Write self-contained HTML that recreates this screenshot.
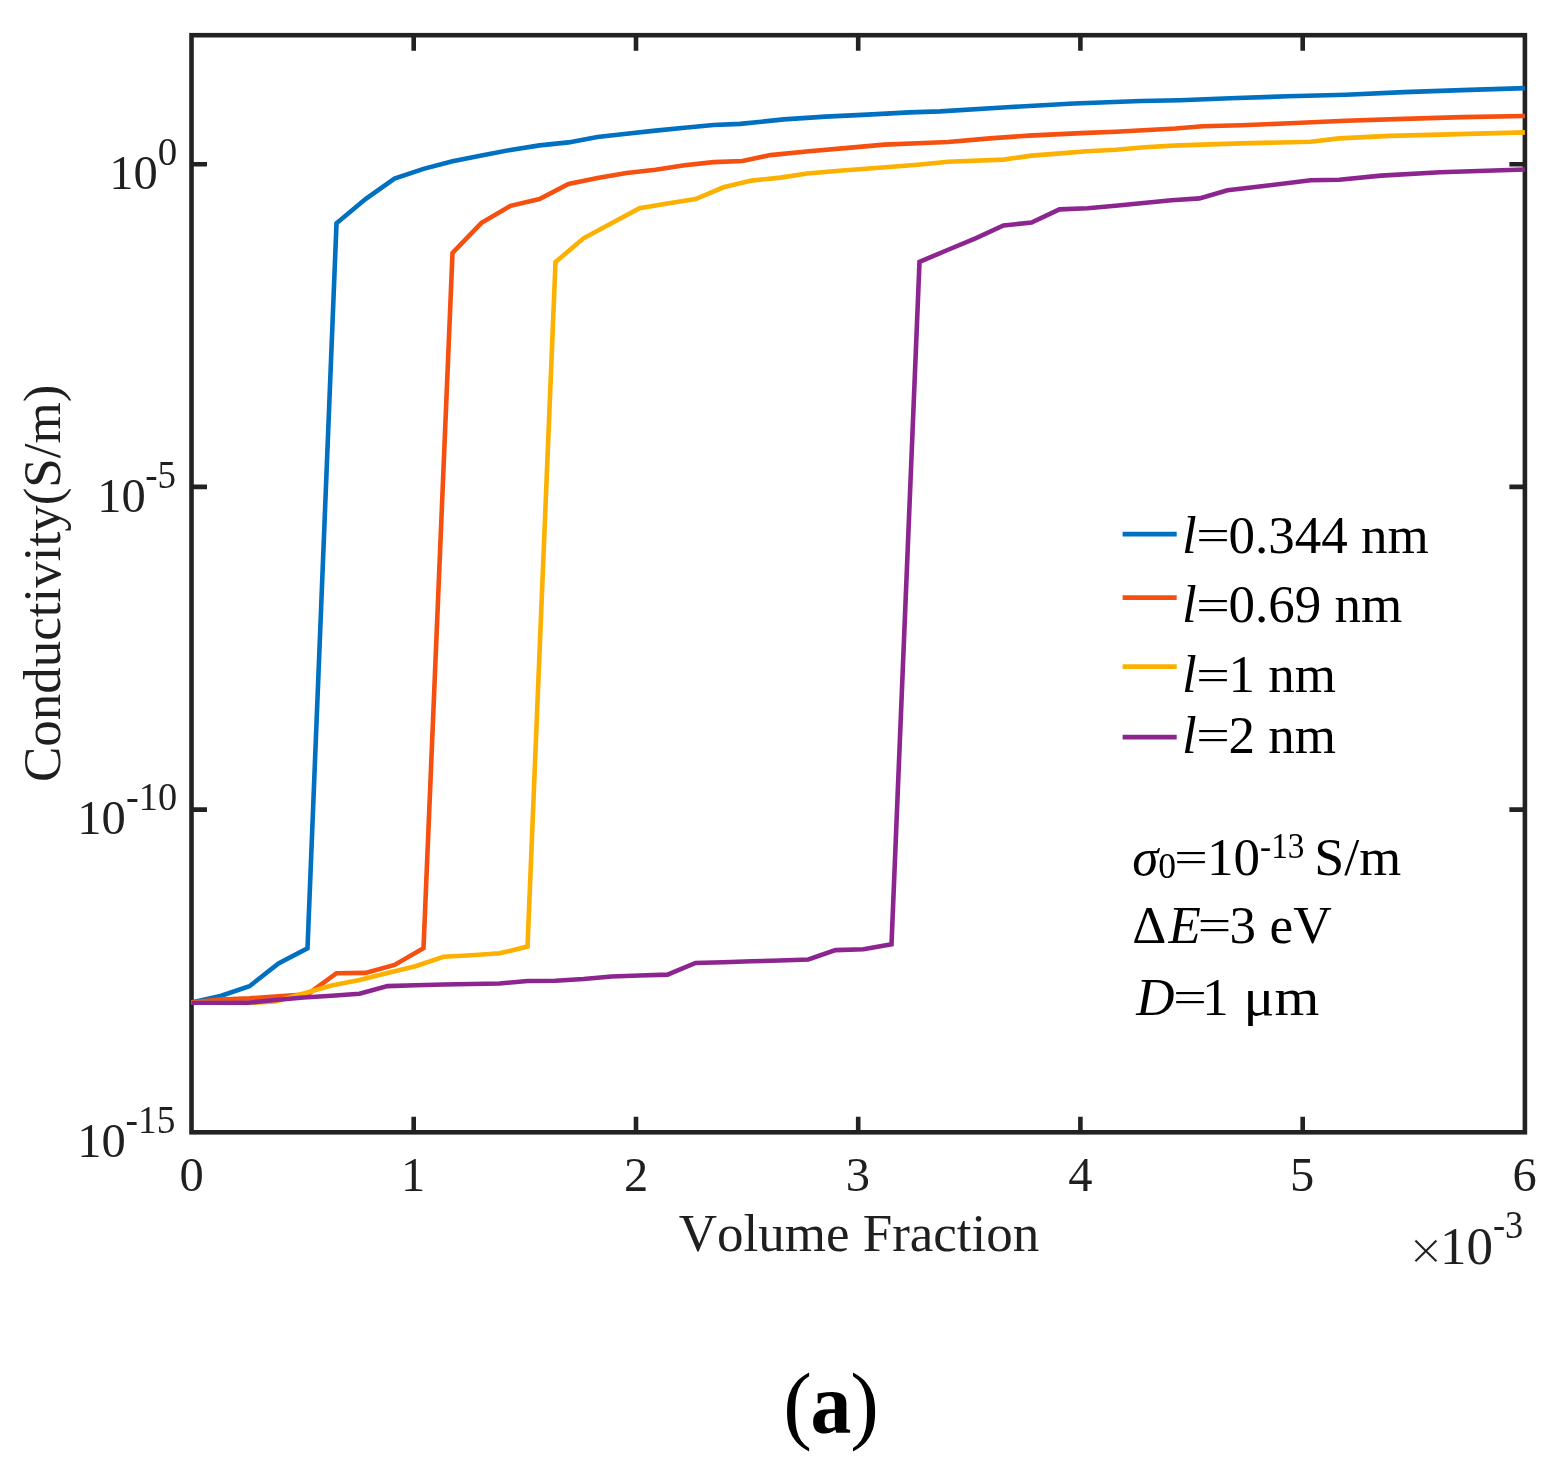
<!DOCTYPE html>
<html><head><meta charset="utf-8"><title>Conductivity vs Volume Fraction</title>
<style>html,body{margin:0;padding:0;background:#fff;}svg{display:block;}</style>
</head><body>
<svg width="1552" height="1470" viewBox="0 0 1552 1470">
<rect width="1552" height="1470" fill="#fff"/>
<g stroke="#222222" stroke-width="4.6" fill="none" stroke-linecap="square">
<rect x="191.5" y="35.2" width="1333.4" height="1097.1" stroke-linecap="butt"/>
<path d="M413.7 1132.3V1116.8 M413.7 35.2V50.7 M636.0 1132.3V1116.8 M636.0 35.2V50.7 M858.2 1132.3V1116.8 M858.2 35.2V50.7 M1080.4 1132.3V1116.8 M1080.4 35.2V50.7 M1302.7 1132.3V1116.8 M1302.7 35.2V50.7 M191.5 164.3H207.0 M1524.9 164.3H1509.4 M191.5 486.9H207.0 M1524.9 486.9H1509.4 M191.5 809.6H207.0 M1524.9 809.6H1509.4" stroke-linecap="butt"/>
</g>
<g fill="none" stroke-width="4.6" stroke-linejoin="miter" stroke-miterlimit="10">
<polyline points="191.5,1002.5 220.5,996.0 249.5,986.2 278.5,963.5 307.5,948.3 336.5,223.3 365.5,199.0 394.5,178.6 423.5,168.9 452.5,161.2 481.5,155.6 510.5,149.9 539.5,145.4 568.5,142.4 597.5,137.0 626.5,133.7 655.5,130.6 684.5,127.8 713.5,125.0 740.2,123.9 783.8,119.4 825.6,116.6 867.5,114.6 909.4,112.4 940.0,111.4 1007.0,107.2 1074.0,103.5 1141.0,101.0 1180.0,100.2 1230.0,98.2 1288.0,96.3 1346.0,94.7 1404.0,92.1 1462.0,90.1 1524.9,88.1" stroke="#0070C0"/>
<polyline points="191.5,1002.3 220.5,999.5 249.5,998.4 278.5,996.3 307.5,994.4 336.5,973.2 365.5,972.9 394.5,964.9 423.5,948.2 452.5,253.0 481.5,222.8 510.5,205.8 539.5,199.0 568.5,183.9 597.5,178.0 626.5,173.0 655.5,169.7 684.5,165.2 713.5,162.1 742.5,161.0 770.4,155.1 808.9,151.3 850.8,147.6 884.3,144.6 917.8,143.2 948.0,142.0 990.0,138.4 1028.7,135.6 1086.7,132.9 1115.7,131.8 1175.6,128.5 1202.6,126.2 1241.3,125.2 1290.0,123.3 1346.0,120.8 1404.0,118.9 1462.0,117.1 1524.9,116.0" stroke="#F5500F"/>
<polyline points="191.5,1002.5 219.5,1002.8 247.5,1003.0 275.5,1001.5 303.5,993.5 331.5,985.5 359.5,979.9 387.5,973.0 415.5,966.2 443.5,956.7 471.5,955.2 499.5,953.3 527.5,946.6 555.5,262.1 583.5,238.3 611.5,223.3 639.5,208.2 667.5,203.6 695.5,199.0 723.5,187.3 751.5,180.6 780.4,177.6 807.2,173.5 842.4,170.5 875.9,168.0 917.8,164.7 948.0,161.8 1003.5,159.6 1031.5,155.6 1057.7,153.6 1086.7,151.3 1115.7,149.8 1144.6,147.2 1173.6,145.6 1202.6,144.6 1241.3,143.4 1290.0,142.2 1310.7,141.8 1339.2,138.4 1389.4,135.9 1440.0,134.6 1524.9,132.4" stroke="#FCB000"/>
<polyline points="191.5,1002.8 219.5,1002.8 247.5,1002.8 275.5,1000.0 303.5,997.5 331.5,995.8 359.5,993.8 387.5,986.1 415.5,985.3 443.5,984.5 471.5,984.0 499.5,983.5 527.5,981.0 555.5,980.7 583.5,979.0 611.5,976.5 639.5,975.5 667.5,974.6 695.5,963.0 723.5,962.2 751.5,961.3 779.5,960.5 808.3,959.5 835.5,950.1 863.5,949.2 891.5,944.3 919.5,261.8 947.5,250.0 975.5,238.3 1003.5,225.5 1031.5,222.5 1059.5,209.4 1087.5,208.2 1115.5,205.7 1143.5,203.0 1171.5,200.3 1199.5,198.4 1227.5,190.2 1263.8,186.0 1310.7,180.3 1339.2,179.8 1381.0,175.6 1440.0,172.2 1524.9,169.5" stroke="#8C2590"/>
</g>
<g font-family="'Liberation Serif',serif" fill="#1f1f1f" style="font-kerning:none">
<text x="179.38" y="1190.50" font-size="48.50">0</text>
<text x="400.93" y="1190.50" font-size="48.50">1</text>
<text x="624.11" y="1190.50" font-size="48.50">2</text>
<text x="845.86" y="1190.50" font-size="48.50">3</text>
<text x="1068.21" y="1190.50" font-size="48.50">4</text>
<text x="1290.08" y="1190.50" font-size="48.50">5</text>
<text x="1512.46" y="1190.50" font-size="48.50">6</text>
<text x="109.35" y="188.87" font-size="48.50">10</text>
<text x="157.72" y="165.07" font-size="39.50" textLength="19.47" lengthAdjust="spacingAndGlyphs">0</text>
<text x="97.15" y="511.55" font-size="48.50">10</text>
<text x="145.13" y="487.75" font-size="39.50" textLength="30.82" lengthAdjust="spacingAndGlyphs">-5</text>
<text x="77.35" y="834.22" font-size="48.50">10</text>
<text x="125.98" y="810.42" font-size="39.50" textLength="51.08" lengthAdjust="spacingAndGlyphs">-10</text>
<text x="77.15" y="1156.90" font-size="48.50">10</text>
<text x="125.61" y="1133.10" font-size="39.50" textLength="49.85" lengthAdjust="spacingAndGlyphs">-15</text>
<text x="678.70" y="1251.20" font-size="53.00">Volume Fraction</text>
<text x="1409.61" y="1270.00" font-size="58.00" stroke="#fff" stroke-width="0.7">×</text>
<text x="1440.02" y="1263.80" font-size="53.00">10</text>
<text x="1492.95" y="1238.30" font-size="39.50" textLength="30.38" lengthAdjust="spacingAndGlyphs">-3</text>
<text transform="translate(59.8,782.07) rotate(-90)" font-size="53.00">Conductivity(S/m)</text>
</g>
<g font-family="'Liberation Serif',serif" fill="#000" style="font-kerning:none">
<line x1="1122.6" y1="534.1" x2="1176.7" y2="534.1" stroke="#0070C0" stroke-width="4.6"/>
<text x="1181.98" y="552.80" font-size="53.00" font-style="italic">l</text>
<text x="1195.99" y="552.80" font-size="53" textLength="34.0" lengthAdjust="spacingAndGlyphs" transform="matrix(1 0 0 0.85 0 80.22)" stroke="#fff" stroke-width="0.25">=</text>
<text x="1228.5" y="552.80" font-size="53">0.344 nm</text>
<line x1="1122.6" y1="597.6" x2="1176.7" y2="597.6" stroke="#F5500F" stroke-width="4.6"/>
<text x="1181.98" y="622.40" font-size="53.00" font-style="italic">l</text>
<text x="1195.99" y="622.40" font-size="53" textLength="34.0" lengthAdjust="spacingAndGlyphs" transform="matrix(1 0 0 0.85 0 90.66)" stroke="#fff" stroke-width="0.25">=</text>
<text x="1228.5" y="622.40" font-size="53">0.69 nm</text>
<line x1="1122.6" y1="666.6" x2="1176.7" y2="666.6" stroke="#FCB000" stroke-width="4.6"/>
<text x="1181.98" y="692.40" font-size="53.00" font-style="italic">l</text>
<text x="1195.99" y="692.40" font-size="53" textLength="34.0" lengthAdjust="spacingAndGlyphs" transform="matrix(1 0 0 0.85 0 101.16)" stroke="#fff" stroke-width="0.25">=</text>
<text x="1228.5" y="692.40" font-size="53">1 nm</text>
<line x1="1122.6" y1="737.1" x2="1176.7" y2="737.1" stroke="#8C2590" stroke-width="4.6"/>
<text x="1181.98" y="753.10" font-size="53.00" font-style="italic">l</text>
<text x="1195.99" y="753.10" font-size="53" textLength="34.0" lengthAdjust="spacingAndGlyphs" transform="matrix(1 0 0 0.85 0 110.27)" stroke="#fff" stroke-width="0.25">=</text>
<text x="1228.5" y="753.10" font-size="53">2 nm</text>
<text x="1132.22" y="875.00" font-size="53.00" font-style="italic">σ</text>
<text x="1158.15" y="878.30" font-size="35.50">0</text>
<text x="1173.99" y="875.00" font-size="53" textLength="34.0" lengthAdjust="spacingAndGlyphs" transform="matrix(1 0 0 0.85 0 128.55)" stroke="#fff" stroke-width="0.25">=</text>
<text x="1207.02" y="875.00" font-size="53.00">10</text>
<text x="1260.07" y="857.50" font-size="35.50" textLength="44.33" lengthAdjust="spacingAndGlyphs">-13</text>
<text x="1314.39" y="875.00" font-size="53.00" textLength="86.95" lengthAdjust="spacingAndGlyphs">S/m</text>
<text x="1132.18" y="943.20" font-size="53.00">Δ</text>
<text x="1168.58" y="943.20" font-size="53.00" font-style="italic">E</text>
<text x="1197.59" y="943.20" font-size="53" textLength="34.0" lengthAdjust="spacingAndGlyphs" transform="matrix(1 0 0 0.85 0 138.78)" stroke="#fff" stroke-width="0.25">=</text>
<text x="1229.46" y="943.20" font-size="53.00">3</text>
<text x="1269.62" y="943.20" font-size="53.00" textLength="62.18" lengthAdjust="spacingAndGlyphs">eV</text>
<text x="1136.20" y="1014.80" font-size="53.00" font-style="italic">D</text>
<text x="1172.99" y="1014.80" font-size="53" textLength="34.0" lengthAdjust="spacingAndGlyphs" transform="matrix(1 0 0 0.85 0 149.52)" stroke="#fff" stroke-width="0.25">=</text>
<text x="1202.28" y="1014.80" font-size="53.00">1</text>
<text x="1243.63" y="1014.80" font-size="53.00" textLength="75.78" lengthAdjust="spacingAndGlyphs">μm</text>
</g>
<g font-family="'Liberation Serif',serif" fill="#000">
<text x="783.22" y="1433.00" font-size="86.00">(</text>
<text x="810.57" y="1433.00" font-size="86.00" font-weight="bold" textLength="40.87" lengthAdjust="spacingAndGlyphs">a</text>
<text x="850.14" y="1433.00" font-size="86.00">)</text>
</g>
</svg>
</body></html>
